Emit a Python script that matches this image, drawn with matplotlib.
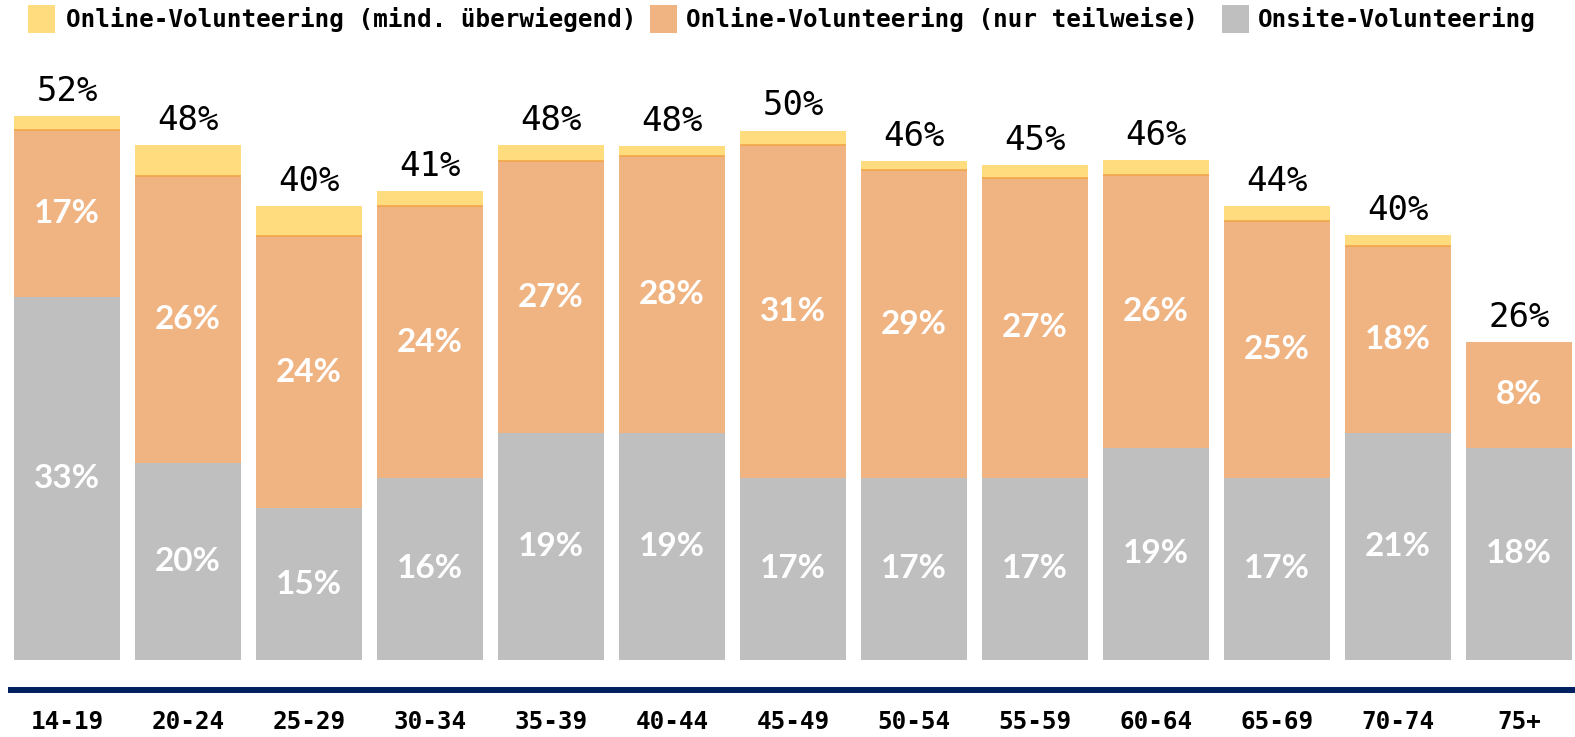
import matplotlib
matplotlib.use("Agg")
import matplotlib.pyplot as plt
from matplotlib.patches import Rectangle
import numpy as np

# ---- data (bar heights; labels as printed) ----
categories = ["14-19", "20-24", "25-29", "30-34", "35-39", "40-44", "45-49",
              "50-54", "55-59", "60-64", "65-69", "70-74", "75+"]
onsite = [34.7, 18.8, 14.5, 17.4, 21.7, 21.7, 17.4, 17.4, 17.4, 20.3, 17.4, 21.7, 20.3]
online_partly = [16.0, 27.5, 26.0, 26.0, 26.0, 26.5, 31.8, 29.4, 28.7, 26.1, 24.6, 17.9, 10.1]
online_mostly = [1.3, 2.9, 2.9, 1.4, 1.5, 0.9, 1.4, 0.9, 1.2, 1.4, 1.4, 1.0, 0.0]
onsite_labels = ["33%", "20%", "15%", "16%", "19%", "19%", "17%", "17%", "17%", "19%", "17%", "21%", "18%"]
partly_labels = ["17%", "26%", "24%", "24%", "27%", "28%", "31%", "29%", "27%", "26%", "25%", "18%", "8%"]
total_labels = ["52%", "48%", "40%", "41%", "48%", "48%", "50%", "46%", "45%", "46%", "44%", "40%", "26%"]
legend_labels = ["Online-Volunteering (mind. überwiegend)",
                 "Online-Volunteering (nur teilweise)",
                 "Onsite-Volunteering"]

c_yellow = "#FFDD7F"
c_orange = "#F0B483"
c_gray = "#BFBFBF"
c_edge = "#F2A64A"
c_navy = "#002060"

W, H = 1575, 737
fig = plt.figure(figsize=(W / 100, H / 100), dpi=100)

pxu = 10.46  # pixels per value unit
x0 = 67.0    # pixel centre of first bar
pitch = 121.0
ax_bottom_px = 660
ax_top_px = 60
ax = fig.add_axes([0, 1 - ax_bottom_px / H, 1, (ax_bottom_px - ax_top_px) / H])
ax.set_xlim(-x0 / pitch, (W - x0) / pitch)
ax.set_ylim(0, (ax_bottom_px - ax_top_px) / pxu)
for s in ax.spines.values():
    s.set_visible(False)
ax.set_yticks([])

x = np.arange(len(categories))
on = np.array(onsite)
pa = np.array(online_partly)
mo = np.array(online_mostly)
bw = 106 / pitch

ax.bar(x, on, bw, color=c_gray, linewidth=0)
ax.bar(x, pa, bw, bottom=on, color=c_orange, linewidth=0)
ax.bar(x, mo, bw, bottom=on + pa, color=c_yellow, linewidth=0)
# thin darker line between orange and yellow
for i in range(len(x)):
    if mo[i] > 0:
        ax.plot([x[i] - bw / 2, x[i] + bw / 2], [on[i] + pa[i]] * 2,
                color=c_edge, lw=1.2, solid_capstyle="butt")

lab_font = dict(family=["Lato", "DejaVu Sans"], weight="bold", size=24, color="white")
for i in range(len(x)):
    ax.text(x[i], on[i] / 2, onsite_labels[i], ha="center", va="center", **lab_font)
    ax.text(x[i], on[i] + pa[i] / 2, partly_labels[i], ha="center", va="center", **lab_font)
    ax.annotate(total_labels[i], (x[i], on[i] + pa[i] + mo[i]), xytext=(0, 11),
                textcoords="offset points", ha="center", va="baseline",
                fontsize=24.5, family="DejaVu Sans Mono", color="black")

ax.set_xticks(x)
ax.set_xticklabels(categories, family="DejaVu Sans Mono", weight="bold", fontsize=17.5)
ax.tick_params(axis="x", length=0, pad=36)

# navy baseline rule
yline = -(690 - ax_bottom_px) / pxu
ax.plot([(8 - x0) / pitch, (W - x0) / pitch], [yline, yline], color=c_navy,
        lw=4.3, clip_on=False, solid_capstyle="butt")

# legend
leg_items = [(28, c_yellow, 66), (650, c_orange, 686), (1222, c_gray, 1258)]
for (px, col, tx), lbl in zip(leg_items, legend_labels):
    fig.add_artist(Rectangle((px / W, 1 - 33 / H), 27 / W, 28 / H,
                             transform=fig.transFigure, color=col, linewidth=0))
    fig.text(tx / W, 1 - 20 / H, lbl, ha="left", va="center",
             family="DejaVu Sans Mono", weight="bold", fontsize=17.5, color="black")

fig.savefig("out.png", dpi=100)
